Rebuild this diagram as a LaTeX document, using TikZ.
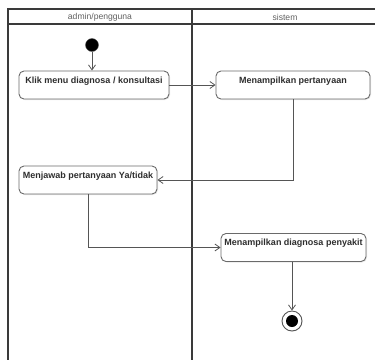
\documentclass[tikz,border=0pt]{standalone}
\usepackage{fontspec}
\setmainfont{Liberation Sans}
\usetikzlibrary{arrows.meta,shadows}
\definecolor{lanecol}{HTML}{3A3A3A}
\definecolor{boxcol}{HTML}{6A6A6A}
\definecolor{txtcol}{HTML}{2E2E2E}
\definecolor{hdrcol}{HTML}{606060}
\definecolor{linecol}{HTML}{555555}
\tikzset{
  lane/.style={draw=lanecol, line width=1.3pt},
  actbox/.style={draw=boxcol, line width=0.9pt, rounded corners=5pt, fill=white,
    drop shadow={opacity=0.18, shadow xshift=1pt, shadow yshift=-1pt},
    inner xsep=3pt, inner ysep=4pt, text height=8pt, text depth=12pt,
    font=\fontsize{9}{10}\selectfont\bfseries, text=txtcol},
  hdr/.style={font=\fontsize{8.6}{10}\selectfont, text=hdrcol},
  flow/.style={draw=linecol, line width=0.8pt, -{Straight Barb[length=5pt,width=7pt,line width=0.8pt]}},
}
\begin{document}
\begin{tikzpicture}[x=1pt,y=-1pt]
\useasboundingbox (0,0) rectangle (375,360);
% swimlanes
\draw[lane] (375,9) -- (8,9) -- (8,360);
\draw[lane] (8,24) -- (375,24);
\draw[lane] (192,9) -- (192,360);
\node[hdr] (h1) at (100,17) {admin/pengguna};
\node[hdr] (h2) at (285,17) {sistem};
% nodes
\node[circle, fill=black, draw=linecol, minimum size=13pt, inner sep=0pt] (start) at (92,45) {};
\node[actbox, minimum width=150pt] (b1) at (94,85) {Klik menu diagnosa / konsultasi};
\node[actbox, minimum width=154pt] (b2) at (293,85) {Menampilkan pertanyaan};
\node[actbox, minimum width=138pt] (b3) at (88,180) {Menjawab pertanyaan Ya/tidak};
\node[actbox, minimum width=145pt] (b4) at (293.5,247.5) {Menampilkan diagnosa penyakit};
\node[circle, draw=linecol, fill=white, line width=0.9pt, minimum size=20pt, inner sep=0pt,
  drop shadow={opacity=0.18, shadow xshift=0.5pt, shadow yshift=-0.5pt},
  path picture={\fill[black] (path picture bounding box.center) circle (6pt);}] (end) at (292,321) {};
% flows
\draw[flow] (start) -- (start |- b1.north);
\draw[flow] (b1.east) -- (b2.west);
\draw[flow] (b2.south) |- (b3.east);
\draw[flow] (b3.south) |- (b4.west);
\draw[flow] (b4.south -| end) -- (end.north);
\end{tikzpicture}
\end{document}
